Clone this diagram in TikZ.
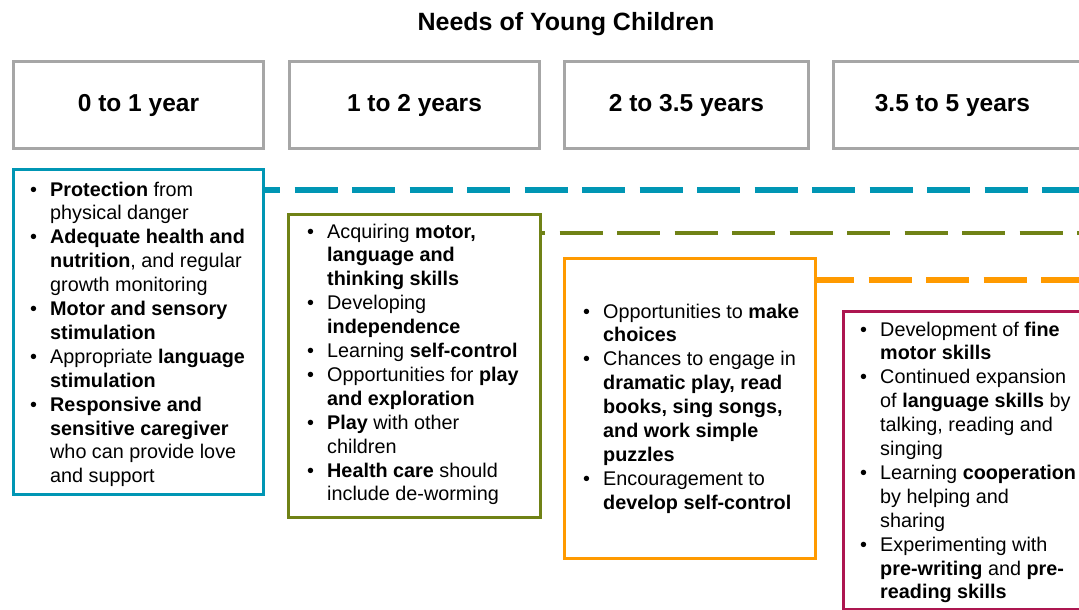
\documentclass[tikz,border=0pt]{standalone}
\usepackage{fontspec}
\setmainfont{Liberation Sans}
\usepackage{array}
\definecolor{cteal}{HTML}{0096B4}
\definecolor{colive}{HTML}{708216}
\definecolor{corange}{HTML}{FF9A00}
\definecolor{ccrimson}{HTML}{AD1650}
\definecolor{cgray}{HTML}{A6A6A6}
\newcommand{\bodyfont}{\fontsize{19.8}{23.9}\selectfont}
\newcommand{\bt}{\textbullet}
\newenvironment{blist}{\bodyfont\begin{tabular}[t]{@{}p{20pt}@{}l@{}}}{\end{tabular}}
\begin{document}
\begin{tikzpicture}[x=1pt,y=-1pt,
  hbox/.style={draw=cgray,line width=3pt,minimum width=#1,minimum height=87pt,anchor=north west,inner sep=0pt,
    font=\fontsize{24.5}{28}\selectfont\bfseries},
  cbox/.style={draw=#1,line width=3pt,anchor=north west,inner sep=0pt},
  txt/.style={anchor=base west,inner sep=0pt,align=left},
  dashline/.style={draw=#1,dash pattern=on 43pt off 14.5pt}
]
\clip (0,0) rectangle (1079,610);
\fill[white] (0,0) rectangle (1079,610);
% title
\node[font=\fontsize{25}{29}\selectfont\bfseries] (title) at (566,24) {Needs of Young Children};
% header boxes
\node[hbox=250pt] (h1) at (12,60) {0 to 1 year};
\node[hbox=250pt] (h2) at (288,60) {1 to 2 years};
\node[hbox=244pt] (h3) at (563,60) {2 to 3.5 years};
\node[hbox=250pt] (h4) at (832,60) {3.5 to 5 years\hspace*{12pt}};
% content boxes
\node[cbox=cteal,minimum width=250pt,minimum height=325pt] (b1) at (12,168) {};
\node[cbox=colive,minimum width=252pt,minimum height=303pt] (b2) at (287,213) {};
\node[cbox=corange,minimum width=251pt,minimum height=300pt] (b3) at (563,257) {};
\node[cbox=ccrimson,minimum width=250pt,minimum height=298pt] (b4) at (842,310) {};
% dashed connectors
\coordinate (e1) at (1085,190);
\coordinate (e2) at (1085,233);
\coordinate (e3) at (1085,280);
\draw[dashline=cteal,line width=6pt,dash phase=28pt] (b1.east |- e1) -- (e1);
\draw[dashline=colive,line width=4pt,dash phase=40pt] (b2.east |- e2) -- (e2);
\draw[dashline=corange,line width=6pt,dash phase=6pt] (b3.east |- e3) -- (e3);
% texts
\node[txt] (t1) at (30,196) {\begin{blist}
\bt & \textbf{Protection} from\\
 & physical danger\\
\bt & \textbf{Adequate health and}\\
 & \textbf{nutrition}, and regular\\
 & growth monitoring\\
\bt & \textbf{Motor and sensory}\\
 & \textbf{stimulation}\\
\bt & Appropriate \textbf{language}\\
 & \textbf{stimulation}\\
\bt & \textbf{Responsive and}\\
 & \textbf{sensitive caregiver}\\
 & who can provide love\\
 & and support
\end{blist}};
\node[txt] (t2) at (307,238) {\begin{blist}
\bt & Acquiring \textbf{motor,}\\
 & \textbf{language and}\\
 & \textbf{thinking skills}\\
\bt & Developing\\
 & \textbf{independence}\\
\bt & Learning \textbf{self-control}\\
\bt & Opportunities for \textbf{play}\\
 & \textbf{and exploration}\\
\bt & \textbf{Play} with other\\
 & children\\
\bt & \textbf{Health care} should\\
 & include de-worming
\end{blist}};
\node[txt] (t3) at (583,318) {\begin{blist}
\bt & Opportunities to \textbf{make}\\
 & \textbf{choices}\\
\bt & Chances to engage in\\
 & \textbf{dramatic play, read}\\
 & \textbf{books, sing songs,}\\
 & \textbf{and work simple}\\
 & \textbf{puzzles}\\
\bt & Encouragement to\\
 & \textbf{develop self-control}
\end{blist}};
\node[txt] (t4) at (860,336) {\begin{blist}
\bt & Development of \textbf{fine}\\
 & \textbf{motor skills}\\
\bt & Continued expansion\\
 & of \textbf{language skills} by\\
 & talking, reading and\\
 & singing\\
\bt & Learning \textbf{cooperation}\\
 & by helping and\\
 & sharing\\
\bt & Experimenting with\\
 & \textbf{pre-writing} and \textbf{pre-}\\
 & \textbf{reading skills}
\end{blist}};
\end{tikzpicture}
\end{document}
